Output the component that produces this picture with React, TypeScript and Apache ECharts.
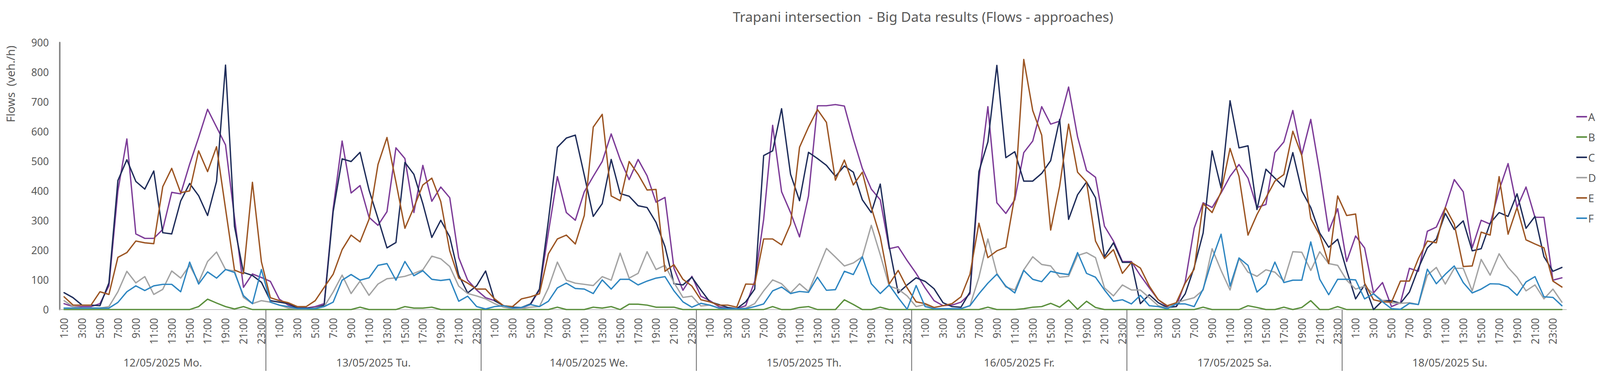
import React, { useEffect, useRef } from "react";
import * as echarts from "echarts";

const TITLE = "Trapani intersection  - Big Data results (Flows - approaches)";
const Y_AXIS_NAME = "Flows  (veh./h)";
const DAYS = [
  "12/05/2025 Mo.",
  "13/05/2025 Tu.",
  "14/05/2025 We.",
  "15/05/2025 Th.",
  "16/05/2025 Fr.",
  "17/05/2025 Sa.",
  "18/05/2025 Su.",
];
const NEXT_DAY = "19/05/2025 Mo.";
const HOUR_LABELS = [
  "0:00", "1:00", "2:00", "3:00", "4:00", "5:00", "6:00", "7:00", "8:00", "9:00", "10:00", "11:00",
  "12:00", "13:00", "14:00", "15:00", "16:00", "17:00", "18:00", "19:00", "20:00", "21:00", "22:00", "23:00",
];
const SERIES_NAMES = ["A", "B", "C", "D", "E", "F"];
const SERIES_COLORS = ["#7D3C98", "#5A8F3C", "#1F2D5A", "#A3A3A3", "#9C5523", "#2E86C1"];
const Y_MIN = 0;
const Y_MAX = 900;
const Y_STEP = 100;

// hourly flows, 12/05 1:00 ... 19/05 0:00 (168 values each)
const FLOW_A = [
  20, 10, 10, 10, 20, 80, 400, 575, 255, 240, 240, 270, 395, 390, 490, 580, 675, 615, 555, 310, 75, 120, 108, 95,
  35, 15, 5, 5, 10, 20, 340, 568, 393, 418, 311, 284, 330, 545, 509, 327, 486, 365, 413, 377, 175, 99, 66, 40,
  30, 13, 7, 5, 17, 66, 260, 448, 327, 301, 397, 449, 499, 592, 506, 438, 506, 451, 362, 378, 139, 65, 112, 45,
  30, 10, 3, 3, 13, 95, 304, 621, 397, 327, 245, 383, 687, 687, 691, 686, 575, 476, 406, 370, 205, 212, 165, 122,
  73, 30, 13, 15, 25, 53, 440, 684, 360, 324, 370, 529, 568, 684, 625, 635, 750, 582, 469, 446, 281, 231, 162, 162,
  115, 73, 33, 10, 10, 93, 274, 360, 344, 393, 449, 489, 443, 344, 354, 529, 565, 671, 522, 641, 463, 264, 340, 162,
  248, 208, 56, 91, 10, 23, 139, 129, 264, 278, 344, 438, 397, 208, 301, 288, 403, 492, 344, 413, 311, 311, 99, 107,
];
const FLOW_B = [
  0, 0, 0, 0, 0, 0, 0, 0, 0, 0, 0, 0, 0, 0, 0, 10, 35, 22, 10, 2, 10, 0, 0, 0,
  0, 0, 0, 0, 0, 0, 0, 0, 0, 8, 0, 0, 0, 0, 10, 5, 5, 8, 0, 0, 0, 0, 0, 0,
  0, 0, 0, 0, 0, 0, 0, 8, 0, 0, 0, 8, 5, 10, 0, 18, 18, 15, 8, 8, 8, 0, 0, 0,
  0, 0, 0, 0, 0, 0, 0, 10, 0, 0, 7, 10, 0, 0, 0, 33, 17, 0, 0, 8, 0, 0, 0, 0,
  0, 0, 0, 0, 0, 0, 0, 8, 0, 0, 0, 3, 8, 10, 21, 8, 32, 1, 28, 7, 0, 0, 0, 0,
  0, 0, 0, 0, 0, 0, 0, 8, 0, 0, 0, 0, 13, 7, 0, 0, 8, 0, 7, 30, 0, 0, 10, 0,
  0, 0, 0, 0, 0, 0, 0, 0, 0, 0, 0, 0, 0, 0, 0, 0, 0, 0, 0, 0, 0, 0, 0, 0,
];
const FLOW_C = [
  57, 40, 15, 15, 13, 90, 435, 505, 432, 406, 467, 259, 255, 366, 425, 384, 317, 432, 824, 280, 125, 115, 92, 30,
  25, 20, 5, 5, 5, 15, 330, 508, 499, 530, 403, 307, 208, 226, 496, 456, 357, 243, 301, 245, 116, 56, 80, 130,
  30, 13, 8, 7, 19, 69, 300, 547, 578, 588, 453, 314, 357, 506, 391, 382, 350, 344, 294, 212, 87, 83, 109, 66,
  26, 17, 7, 3, 26, 69, 519, 535, 677, 456, 367, 530, 509, 486, 449, 484, 463, 370, 327, 423, 212, 56, 83, 107,
  95, 70, 23, 10, 8, 59, 465, 565, 823, 512, 532, 433, 433, 459, 502, 641, 304, 387, 430, 377, 178, 225, 159, 159,
  20, 50, 23, 7, 10, 53, 142, 258, 535, 410, 704, 545, 552, 337, 473, 443, 413, 529, 400, 344, 258, 210, 237, 132,
  36, 83, 0, 30, 30, 21, 59, 139, 208, 238, 324, 270, 299, 198, 205, 291, 327, 314, 390, 274, 314, 178, 129, 142,
];
const FLOW_D = [
  30, 10, 5, 5, 5, 10, 60, 129, 90, 111, 51, 68, 130, 106, 149, 92, 162, 194, 135, 130, 41, 20, 30, 25,
  15, 5, 2, 2, 5, 10, 59, 116, 54, 96, 48, 86, 104, 107, 112, 122, 134, 180, 171, 145, 79, 54, 46, 36,
  20, 8, 3, 3, 8, 10, 73, 160, 99, 89, 85, 81, 111, 99, 190, 106, 122, 195, 135, 149, 91, 41, 45, 12,
  15, 5, 2, 2, 5, 20, 63, 100, 87, 56, 87, 61, 132, 206, 177, 147, 157, 178, 284, 185, 79, 69, 46, 10,
  17, 3, 3, 3, 3, 13, 109, 238, 122, 76, 66, 134, 178, 152, 147, 109, 112, 182, 192, 175, 73, 46, 83, 66,
  66, 40, 13, 5, 23, 32, 40, 66, 205, 132, 66, 172, 126, 112, 134, 126, 96, 195, 193, 132, 195, 155, 149, 99,
  69, 79, 53, 30, 23, 21, 23, 17, 116, 142, 86, 139, 139, 63, 169, 116, 188, 142, 109, 63, 83, 36, 69, 25,
];
const FLOW_E = [
  43, 15, 15, 15, 60, 51, 176, 192, 231, 225, 222, 414, 476, 394, 400, 535, 465, 549, 340, 133, 121, 429, 161, 40,
  30, 23, 10, 10, 30, 75, 119, 202, 251, 228, 304, 489, 580, 430, 274, 344, 420, 443, 364, 198, 106, 89, 69, 69,
  36, 13, 10, 36, 43, 53, 188, 238, 251, 221, 317, 615, 658, 383, 367, 499, 456, 403, 405, 129, 151, 102, 79, 33,
  26, 15, 15, 8, 86, 85, 238, 238, 218, 288, 547, 615, 674, 631, 436, 504, 420, 463, 344, 245, 86, 132, 73, 26,
  20, 7, 13, 20, 43, 119, 291, 175, 198, 210, 383, 843, 671, 588, 268, 416, 625, 463, 430, 231, 172, 202, 122, 159,
  140, 79, 33, 13, 23, 89, 136, 357, 327, 397, 543, 449, 251, 320, 377, 433, 455, 601, 519, 307, 251, 155, 383, 317,
  322, 89, 33, 26, 25, 96, 96, 172, 231, 225, 344, 288, 145, 147, 261, 251, 448, 254, 344, 235, 221, 208, 96, 76,
];
const FLOW_F = [
  5, 5, 5, 5, 5, 5, 24, 60, 80, 64, 80, 85, 85, 60, 160, 86, 127, 106, 135, 125, 47, 20, 135, 25,
  15, 10, 3, 3, 3, 10, 25, 99, 118, 99, 107, 149, 155, 99, 162, 114, 131, 102, 98, 102, 28, 45, 10, 2,
  10, 13, 5, 7, 17, 10, 28, 73, 89, 71, 69, 54, 100, 69, 102, 102, 83, 96, 106, 111, 63, 26, 8, 21,
  15, 5, 3, 3, 3, 10, 19, 63, 76, 54, 61, 58, 109, 65, 67, 129, 118, 178, 87, 54, 83, 40, 1, 81,
  10, 3, 3, 3, 3, 13, 53, 89, 119, 79, 56, 132, 102, 94, 129, 122, 118, 192, 122, 109, 66, 28, 33, 19,
  48, 13, 10, 3, 19, 19, 10, 69, 169, 254, 79, 174, 149, 59, 86, 160, 91, 99, 99, 228, 102, 50, 102, 102,
  100, 36, 53, 26, 3, 1, 21, 17, 136, 87, 119, 147, 91, 56, 69, 87, 86, 76, 48, 93, 111, 43, 41, 13,
];
const FLOWS = [FLOW_A, FLOW_B, FLOW_C, FLOW_D, FLOW_E, FLOW_F];

const FONT = "'Noto Sans', 'Open Sans', sans-serif";
const TEXT_COLOR = "#595959";
const REF_W = 4188;
const REF_H = 976;

function buildCategories() {
  const cats: string[] = [];
  const groups: { day: string; first: number; last: number }[] = [];
  DAYS.forEach((day, d) => {
    const first = cats.length;
    HOUR_LABELS.forEach((h, i) => {
      if (d === 0 && i === 0) return;
      cats.push(day + "|" + h);
    });
    groups.push({ day, first, last: cats.length - 1 });
  });
  cats.push(NEXT_DAY + "|" + HOUR_LABELS[0]);
  return { cats, groups };
}

export default function App() {
  const ref = useRef<HTMLDivElement>(null);

  useEffect(() => {
    document.body.style.margin = "0";
    document.body.style.overflow = "hidden";
    const el = ref.current;
    if (!el) return;
    const vw = window.innerWidth || REF_W;
    const vh = window.innerHeight || REF_H;
    el.style.width = vw + "px";
    el.style.height = vh + "px";
    const sx = vw / REF_W;
    const sy = vh / REF_H;
    const s = Math.min(sx, sy);
    const X = (v: number) => v * sx;
    const Y = (v: number) => v * sy;
    const F = (v: number) => v * s;

    const chart = echarts.init(el, undefined, { renderer: "svg", width: vw, height: vh });
    const { cats, groups } = buildCategories();

    chart.setOption({
      animation: false,
      backgroundColor: "#ffffff",
      textStyle: { fontFamily: FONT },
      grid: { left: X(156), top: Y(109), width: X(3944), height: Y(684), containLabel: false },
      xAxis: {
        type: "category",
        data: cats,
        boundaryGap: true,
        axisTick: { show: false },
        axisLine: { show: true, lineStyle: { color: "#BFBFBF", width: F(2) } },
        axisLabel: {
          interval: 1,
          rotate: 90,
          fontSize: F(27),
          color: TEXT_COLOR,
          margin: F(22),
          fontFamily: FONT,
          formatter: (v: string) => v.split("|")[1],
        },
        splitLine: { show: false },
      },
      yAxis: {
        type: "value",
        min: Y_MIN,
        max: Y_MAX,
        interval: Y_STEP,
        axisLine: { show: true, lineStyle: { color: "#868686", width: F(4) } },
        axisTick: { show: false },
        splitLine: { show: false },
        axisLabel: { fontSize: F(27), color: TEXT_COLOR, margin: F(28), fontFamily: FONT },
      },
      series: SERIES_NAMES.map((name, i) => ({
        name,
        type: "line",
        data: FLOWS[i],
        symbol: "none",
        showSymbol: false,
        color: SERIES_COLORS[i],
        lineStyle: { width: F(3.5), color: SERIES_COLORS[i], join: "round", cap: "round" },
      })),
    });

    const px = (i: number) => chart.convertToPixel({ xAxisIndex: 0 }, cats[i]) as number;
    const axisY = chart.convertToPixel({ yAxisIndex: 0 }, Y_MIN) as number;
    const graphics: any[] = [
      {
        type: "text",
        x: X(2416),
        y: Y(42),
        style: {
          text: TITLE,
          fontSize: F(36),
          fontFamily: FONT,
          fill: TEXT_COLOR,
          align: "center",
          verticalAlign: "middle",
        },
      },
      {
        type: "text",
        x: X(28),
        y: Y(215),
        rotation: Math.PI / 2,
        style: {
          text: Y_AXIS_NAME,
          fontSize: F(30),
          fontFamily: FONT,
          fill: TEXT_COLOR,
          align: "center",
          verticalAlign: "middle",
        },
      },
    ];
    // legend (line swatch + name), one row per series
    SERIES_NAMES.forEach((name, i) => {
      const y = Y(299 + i * 52);
      graphics.push({
        type: "line",
        shape: { x1: X(4126), y1: y, x2: X(4154), y2: y },
        style: { stroke: SERIES_COLORS[i], lineWidth: F(4) },
      });
      graphics.push({
        type: "text",
        x: X(4157),
        y,
        style: {
          text: name,
          fontSize: F(28),
          fontFamily: FONT,
          fill: TEXT_COLOR,
          align: "left",
          verticalAlign: "middle",
        },
      });
    });
    groups.forEach((g, k) => {
      graphics.push({
        type: "text",
        x: (px(g.first) + px(g.last)) / 2,
        y: Y(928),
        style: {
          text: g.day,
          fontSize: F(28),
          fontFamily: FONT,
          fill: TEXT_COLOR,
          align: "center",
          verticalAlign: "middle",
        },
      });
      if (k < groups.length - 1) {
        const x = (px(g.last) + px(groups[k + 1].first)) / 2;
        graphics.push({
          type: "line",
          shape: { x1: x, y1: axisY, x2: x, y2: Y(950) },
          style: { stroke: "#7F7F7F", lineWidth: F(2.5) },
        });
      }
    });
    chart.setOption({ graphic: graphics });

    return () => chart.dispose();
  }, []);

  return <div ref={ref} style={{ width: REF_W, height: REF_H }} />;
}
